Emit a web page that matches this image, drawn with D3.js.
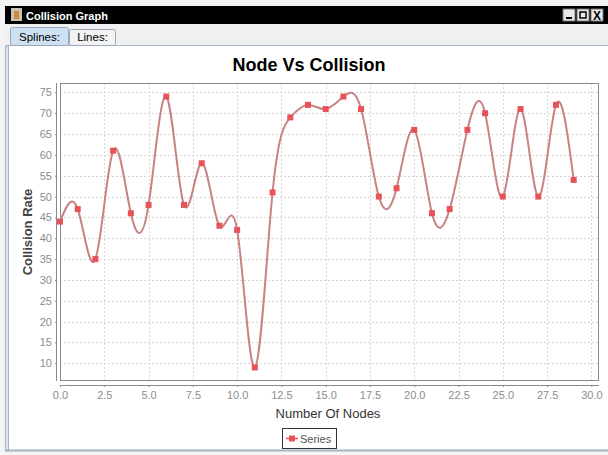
<!DOCTYPE html>
<html><head><meta charset="utf-8">
<script src="https://cdn.jsdelivr.net/npm/d3@7"></script>
<style>html,body{margin:0;padding:0;background:#fff;}svg{display:block;}</style>
</head><body>
<script>
const xValues = [0,1,2,3,4,5,6,7,8,9,10,11,12,13,14,15,16,17,18,19,20,21,22,23,24,25,26,27,28,29];
const seriesValues = [44,47,35,61,46,48,74,48,58,43,42,9,51,69,72,71,74,71,50,52,66,46,47,66,70,50,71,50,72,54];
const xTicks = [0,2.5,5,7.5,10,12.5,15,17.5,20,22.5,25,27.5,30];
const yTicks = [10,15,20,25,30,35,40,45,50,55,60,65,70,75];
const seriesName = "Series";
const chartTitle = "Node Vs Collision";
const xLabel = "Number Of Nodes";
const yLabel = "Collision Rate";
const windowTitle = "Collision Graph";
const tabs = ["Splines:", "Lines:"];

const W = 608, H = 455;
const svg = d3.select("body").append("svg").attr("width", W).attr("height", H);

// window chrome
svg.append("rect").attr("x",0).attr("y",0).attr("width",W).attr("height",H).attr("fill","#f4f4f4");
svg.append("rect").attr("x",5).attr("y",6).attr("width",W-5).attr("height",18).attr("fill","#000");
svg.append("rect").attr("x",11).attr("y",8).attr("width",11).attr("height",13).attr("fill","#c9c2b8");
svg.append("rect").attr("x",14).attr("y",11).attr("width",5).attr("height",8).attr("fill","#d08a3a");
svg.append("text").attr("x",26).attr("y",19.5).attr("fill","#fff").attr("font-family","Liberation Sans, Arial, sans-serif")
  .attr("font-size",11).attr("font-weight","bold").text(windowTitle);
[563,577,591].forEach((bx,i)=>{
  svg.append("rect").attr("x",bx).attr("y",9).attr("width",12).attr("height",12).attr("fill","#e8e8e8").attr("stroke","#777");
});
svg.append("rect").attr("x",566).attr("y",17).attr("width",6).attr("height",2).attr("fill","#000");
svg.append("rect").attr("x",580).attr("y",12).attr("width",6).attr("height",6).attr("fill","none").attr("stroke","#000").attr("stroke-width",1.5);
svg.append("text").attr("x",597).attr("y",20).attr("text-anchor","middle").attr("font-family","Liberation Sans, Arial, sans-serif")
  .attr("font-size",12).attr("font-weight","bold").attr("fill","#000").text("X");

// tabs area
svg.append("rect").attr("x",5).attr("y",24).attr("width",W-5).attr("height",22).attr("fill","#f0f0f0");
svg.append("line").attr("x1",5).attr("x2",W).attr("y1",45.5).attr("y2",45.5).attr("stroke","#a9bccf");
const tabGeom = [{x:10,w:58,sel:true},{x:69,w:46,sel:false}];
tabGeom.forEach((t,i)=>{
  svg.append("rect").attr("x",t.x+0.5).attr("y",t.sel?27.5:29.5).attr("width",t.w).attr("height",t.sel?18:16)
    .attr("fill",t.sel?"#cfe0f2":"#f3f3f3").attr("stroke","#98a8ba").attr("rx",2);
  svg.append("text").attr("x",t.x+t.w/2+0.5).attr("y",41).attr("text-anchor","middle")
    .attr("font-family","Liberation Sans, Arial, sans-serif").attr("font-size",11.5).attr("fill","#000").text(tabs[i]);
});

// content panel
svg.append("rect").attr("x",5).attr("y",46).attr("width",W-5).attr("height",405).attr("fill","#fff");
svg.append("rect").attr("x",5.5).attr("y",46).attr("width",3).attr("height",405).attr("fill","#dfe6ee").attr("stroke","#a5b3c2").attr("stroke-width",1);
svg.append("line").attr("x1",5).attr("x2",W).attr("y1",450.5).attr("y2",450.5).attr("stroke","#a5b3c2").attr("stroke-width",2);

// chart
const plot = {left:60, right:599, top:83, bottom:381};
const x = d3.scaleLinear().domain([0,30.43]).range([plot.left, plot.right]);
const y = d3.scaleLinear().domain([5.75,77.25]).range([plot.bottom, plot.top]);

svg.append("text").attr("x",309).attr("y",71).attr("text-anchor","middle")
  .attr("font-family","Liberation Sans, Arial, sans-serif").attr("font-size",18).attr("font-weight","bold")
  .attr("fill","#000").text(chartTitle);

const g = svg.append("g");
g.append("rect").attr("x",plot.left).attr("y",plot.top).attr("width",plot.right-plot.left).attr("height",plot.bottom-plot.top).attr("fill","#fff");
g.selectAll(".vg").data(xTicks.filter(t=>x(t)<plot.right)).join("line")
  .attr("x1",d=>Math.round(x(d))+0.5).attr("x2",d=>Math.round(x(d))+0.5).attr("y1",plot.top).attr("y2",plot.bottom)
  .attr("stroke","#d6d6d6").attr("stroke-dasharray","2,2");
g.selectAll(".hg").data(yTicks).join("line")
  .attr("y1",d=>Math.round(y(d))+0.5).attr("y2",d=>Math.round(y(d))+0.5).attr("x1",plot.left).attr("x2",plot.right)
  .attr("stroke","#d6d6d6").attr("stroke-dasharray","2,2");
g.append("rect").attr("x",plot.left+0.5).attr("y",plot.top+0.5).attr("width",plot.right-plot.left-1).attr("height",plot.bottom-plot.top-1)
  .attr("fill","none").attr("stroke","#8a8a8a");

// axes
const xAxis = d3.axisBottom(x).tickValues(xTicks).tickFormat(d3.format(".1f")).tickSize(2).tickPadding(4);
const yAxis = d3.axisLeft(y).tickValues(yTicks).tickFormat(d3.format("d")).tickSize(2).tickPadding(3);
const gx = svg.append("g").attr("transform",`translate(0,${plot.bottom+4})`).call(xAxis);
const gy = svg.append("g").attr("transform",`translate(${plot.left-3},0)`).call(yAxis);
[gx,gy].forEach(a=>{
  a.select(".domain").attr("stroke","#8a8a8a");
  a.selectAll(".tick line").attr("stroke","#8a8a8a");
  a.selectAll(".tick text").attr("fill","#8c8c8c").attr("font-family","Liberation Sans, Arial, sans-serif").attr("font-size",11);
});
gx.select(".domain").attr("d",`M${plot.left},0.5H${plot.right}`);
gy.select(".domain").attr("d",`M-0.5,${plot.top}V${plot.bottom}`);

svg.append("text").attr("x",328).attr("y",418).attr("text-anchor","middle")
  .attr("font-family","Liberation Sans, Arial, sans-serif").attr("font-size",13).attr("fill","#333").text(xLabel);
svg.append("text").attr("transform","translate(32,232) rotate(-90)").attr("text-anchor","middle")
  .attr("font-family","Liberation Sans, Arial, sans-serif").attr("font-size",13).attr("font-weight","bold").attr("fill","#444").text(yLabel);

// series
const data = xValues.map((v,i)=>({x:v,y:seriesValues[i]}));
const line = d3.line().x(d=>x(d.x)).y(d=>y(d.y)).curve(d3.curveNatural);
svg.append("path").datum(data).attr("d",line).attr("fill","none").attr("stroke","#c98282").attr("stroke-width",2);
svg.selectAll(".pt").data(data).join("rect")
  .attr("x",d=>x(d.x)-3).attr("y",d=>y(d.y)-3).attr("width",6).attr("height",6).attr("fill","#e8535a");

// legend
const lg = svg.append("g");
lg.append("rect").attr("x",282.5).attr("y",428.5).attr("width",54).attr("height",20).attr("fill","#fff").attr("stroke","#333");
lg.append("line").attr("x1",286).attr("x2",298).attr("y1",438.5).attr("y2",438.5).attr("stroke","#e8535a").attr("stroke-width",1.5);
lg.append("rect").attr("x",289).attr("y",435.5).attr("width",6).attr("height",6).attr("fill","#e8535a");
lg.append("text").attr("x",300).attr("y",443).attr("font-family","Liberation Sans, Arial, sans-serif").attr("font-size",11).attr("fill","#555").text(seriesName);
</script>
</body></html>
